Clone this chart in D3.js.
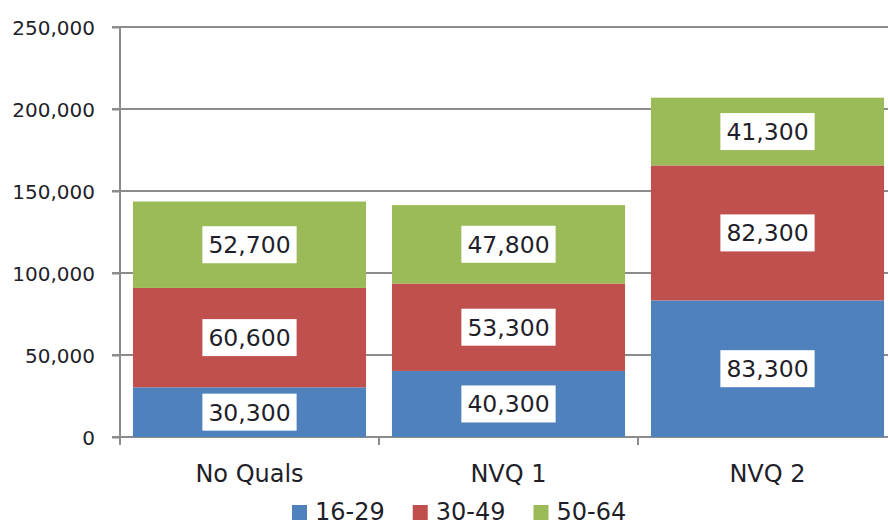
<!DOCTYPE html>
<meta charset="utf-8">
<style>
body{margin:0;background:#fff;}
text{font-family:"DejaVu Sans",sans-serif;fill:#1f1f2a;}
.grid line{stroke:#8c8c8c;stroke-width:2px;}
.axis path,.axis line{stroke:#8c8c8c;stroke-width:2px;}
</style>
<body>
<script src="https://cdn.jsdelivr.net/npm/d3@7"></script>
<script>

var categories = ["No Quals", "NVQ 1", "NVQ 2"];
var seriesNames = ["16-29", "30-49", "50-64"];
var age16_29 = [30300, 40300, 83300];
var age30_49 = [60600, 53300, 82300];
var age50_64 = [52700, 47800, 41300];
var yTicks = [0, 50000, 100000, 150000, 200000, 250000];
var colors = ["#4f81bd", "#c0504d", "#9bbb59"];

var W = 888, H = 526;
var svg = d3.select("body").append("svg").attr("width", W).attr("height", H);

var x = d3.scaleBand().domain(categories).range([120, 897])
	.paddingInner(0.1).paddingOuter(0.05);
var y = d3.scaleLinear().domain([0, 250000]).range([437, 27]);

var rows = categories.map(function(c, i){
	return {cat:c, "16-29":age16_29[i], "30-49":age30_49[i], "50-64":age50_64[i]};
});
var stacked = d3.stack().keys(seriesNames)(rows);

// gridlines
svg.append("g").attr("class","grid")
	.selectAll("line").data(yTicks.slice(1)).enter().append("line")
	.attr("x1",112).attr("x2",W).attr("y1",d=>y(d)).attr("y2",d=>y(d));

// y axis
var yAxis = svg.append("g").attr("class","axis")
	.attr("transform","translate(120,0)")
	.call(d3.axisLeft(y).tickValues(yTicks).tickSize(8).tickSizeOuter(0).tickFormat(d3.format(",")));
yAxis.select(".domain").remove();
yAxis.append("line").attr("x1",0).attr("x2",0).attr("y1",y(250000)).attr("y2",445);
yAxis.selectAll("text").attr("x",-25).attr("dy","0.35em")
	.style("font-size","20px").style("font-family","DejaVu Sans").attr("fill","#1f1f2a");

// x axis baseline + category dividers
var xg = svg.append("g").attr("class","axis");
xg.append("line").attr("x1",112).attr("x2",W).attr("y1",y(0)).attr("y2",y(0));
xg.selectAll(".div").data(categories.slice(1)).enter().append("line").attr("class","div")
	.attr("x1",d=>x(d)-x.step()*x.paddingInner()/2).attr("x2",d=>x(d)-x.step()*x.paddingInner()/2)
	.attr("y1",y(0)).attr("y2",445);

svg.append("g").selectAll("text").data(categories).enter().append("text")
	.attr("x",d=>x(d)+x.bandwidth()/2).attr("y",482)
	.attr("text-anchor","middle").style("font-size","24px").text(d=>d);

// bars
var layers = svg.append("g").selectAll("g").data(stacked).enter().append("g")
	.attr("fill",(d,i)=>colors[i]);
layers.selectAll("rect").data(d=>d).enter().append("rect")
	.attr("x",d=>x(d.data.cat)).attr("width",x.bandwidth())
	.attr("y",d=>y(d[1])).attr("height",d=>y(d[0])-y(d[1]));

// value labels
var labels = svg.append("g").selectAll("g").data(stacked).enter().append("g")
	.selectAll("g").data(d=>d).enter().append("g")
	.attr("transform",d=>"translate("+(x(d.data.cat)+x.bandwidth()/2)+","+y((d[0]+d[1])/2)+")");
labels.append("rect").attr("fill","#fff");
labels.append("text").attr("text-anchor","middle").attr("dy","0.36em")
	.style("font-size","23.5px").text(d=>d3.format(",")(d[1]-d[0]));
labels.each(function(){
	var g = d3.select(this), b = g.select("text").node().getBBox();
	g.select("rect").attr("x",b.x-6).attr("width",b.width+12).attr("y",-18.5).attr("height",37);
});

// legend
var lg = svg.append("g");
var lx = 292;
seriesNames.forEach(function(s, i){
	lg.append("rect").attr("x",lx).attr("y",505).attr("width",15).attr("height",15).attr("fill",colors[i]);
	var t = lg.append("text").attr("x",lx+23).attr("y",520).style("font-size","24px").text(s);
	lx += 23 + t.node().getComputedTextLength() + 28;
});
</script>
</body>
